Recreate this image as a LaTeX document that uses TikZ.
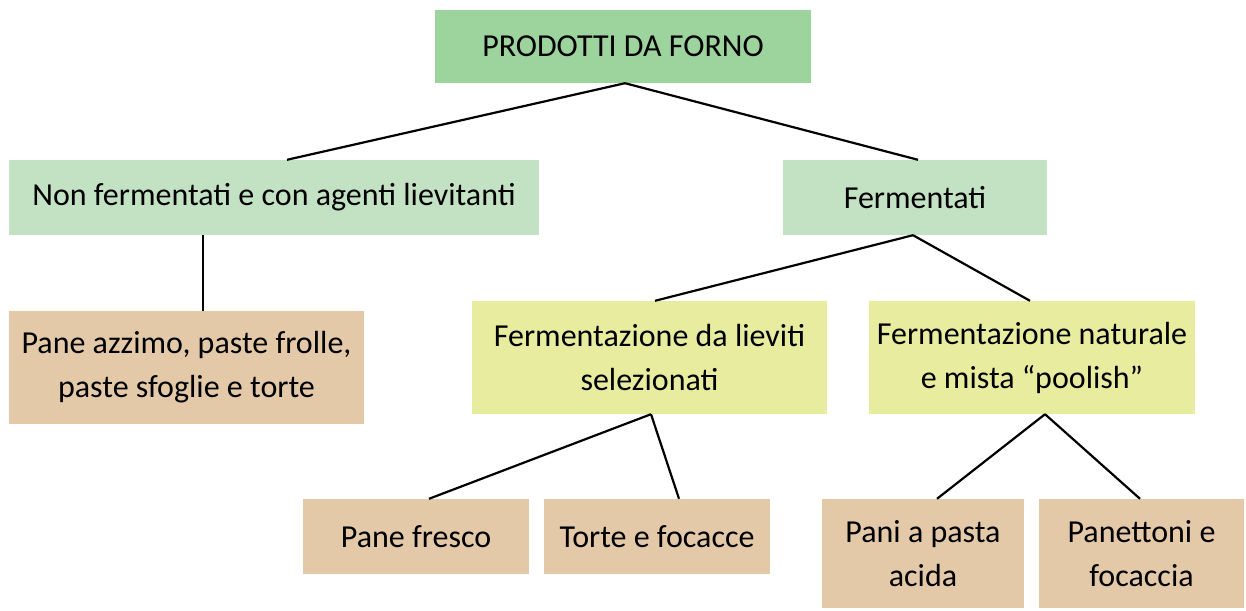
\documentclass[tikz,border=0pt]{standalone}
\usepackage{fontspec}
\setmainfont{Carlito}[Ligatures=Common]
\definecolor{topgreen}{HTML}{9DD39D}
\definecolor{lightgreen}{HTML}{C3E2C3}
\definecolor{yellowg}{HTML}{E8EC9E}
\definecolor{tan}{HTML}{E3C9A8}
\tikzset{
  box/.style={rectangle, inner sep=0pt, align=center, font=\fontsize{32}{44}\selectfont, text=black},
  link/.style={draw=black, line width=2.2pt},
}
\begin{document}
\begin{tikzpicture}[x=1pt,y=-1pt]
\useasboundingbox (0,0) rectangle (1246,610);
\node[box, fill=topgreen, minimum width=376pt, minimum height=73pt] (top) at (623,46.5) {PRODOTTI DA FORNO};
\node[box, fill=lightgreen, minimum width=530pt, minimum height=75pt] (nf) at (274,197.5) {Non fermentati e con agenti lievitanti};
\node[box, fill=lightgreen, minimum width=264pt, minimum height=75pt] (f) at (915,197.5) {Fermentati};
\node[box, fill=tan, minimum width=355pt, minimum height=113pt] (pa) at (186.5,367.5) {Pane azzimo, paste frolle,\\paste sfoglie e torte};
\node[box, fill=yellowg, minimum width=355pt, minimum height=113pt] (fl) at (649.5,357.5) {Fermentazione da lieviti\\selezionati};
\node[box, fill=yellowg, minimum width=326pt, minimum height=113pt] (fn) at (1032,357.5) {Fermentazione naturale\\e mista “poolish”};
\node[box, fill=tan, minimum width=226pt, minimum height=75pt] (pf) at (416,536.5) {Pane fresco};
\node[box, fill=tan, minimum width=226pt, minimum height=75pt] (tf) at (657,536.5) {Torte e focacce};
\node[box, fill=tan, minimum width=202pt, minimum height=109pt] (pp) at (923,553.5) {Pani a pasta\\acida};
\node[box, fill=tan, minimum width=205pt, minimum height=109pt] (pt) at (1141.5,553.5) {Panettoni e\\focaccia};

\draw[link] ([xshift=2pt]top.south) -- ([xshift=13pt]nf.north);
\draw[link] ([xshift=2pt]top.south) -- ([xshift=3pt]f.north);
\draw[link] ([xshift=16.5pt]pa.north) -- ([xshift=16.5pt]pa.north |- nf.south);
\draw[link] ([xshift=-2pt]f.south) -- ([xshift=5.5pt]fl.north);
\draw[link] ([xshift=-2pt]f.south) -- ([xshift=-2pt]fn.north);
\draw[link] ([xshift=1.5pt]fl.south) -- ([xshift=13pt]pf.north);
\draw[link] ([xshift=1.5pt]fl.south) -- ([xshift=22pt]tf.north);
\draw[link] ([xshift=13pt]fn.south) -- ([xshift=14pt]pp.north);
\draw[link] ([xshift=13pt]fn.south) -- ([xshift=-1.5pt]pt.north);
\end{tikzpicture}
\end{document}
